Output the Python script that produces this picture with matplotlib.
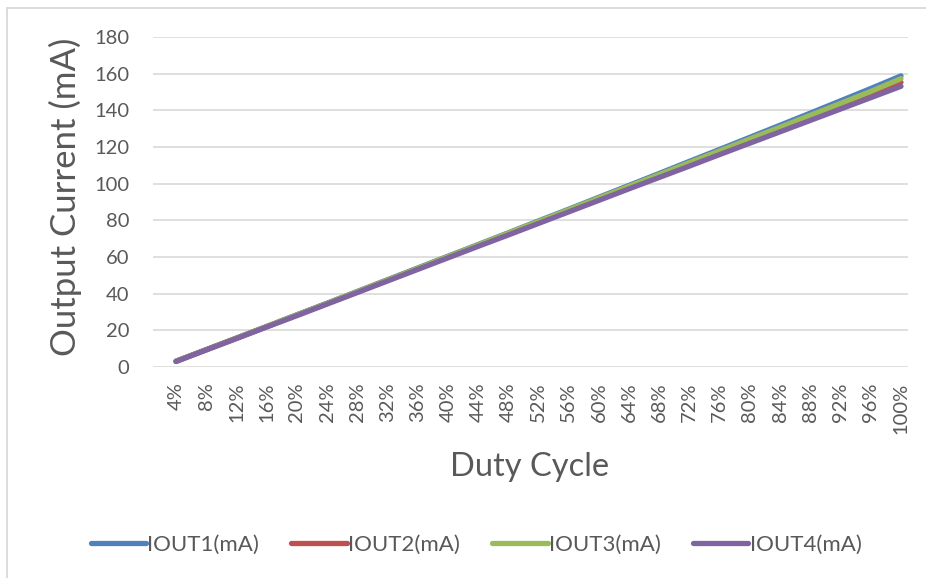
import matplotlib
matplotlib.use("Agg")
import matplotlib.pyplot as plt
from matplotlib.patches import Rectangle
from matplotlib.transforms import ScaledTranslation

duty = [4, 8, 12, 16, 20, 24, 28, 32, 36, 40, 44, 48, 52,
        56, 60, 64, 68, 72, 76, 80, 84, 88, 92, 96, 100]
duty_labels = [f"{d}%" for d in duty]

iout1 = [3.2, 9.5, 15.8, 22.1, 28.5, 34.8, 41.2, 47.6, 54.0, 60.4, 66.8, 73.2, 79.7,
         86.1, 92.6, 99.1, 105.6, 112.2, 118.7, 125.3, 131.9, 138.5, 145.2, 151.9, 158.8]
iout2 = [3.1, 9.4, 15.7, 22.0, 28.3, 34.6, 40.9, 47.3, 53.6, 60.0, 66.3, 72.6, 79.0,
         85.3, 91.7, 98.0, 104.4, 110.8, 117.1, 123.5, 129.8, 136.2, 142.5, 148.9, 155.3]
iout3 = [3.1, 9.4, 15.7, 22.1, 28.4, 34.7, 41.1, 47.4, 53.8, 60.2, 66.6, 73.0, 79.4,
         85.8, 92.2, 98.6, 105.0, 111.5, 117.9, 124.4, 130.8, 137.3, 143.8, 150.3, 157.3]
iout4 = [3.0, 9.3, 15.5, 21.8, 28.0, 34.3, 40.6, 46.9, 53.2, 59.5, 65.8, 72.0, 78.3,
         84.6, 90.9, 97.2, 103.4, 109.6, 115.9, 122.1, 128.3, 134.5, 140.7, 146.9, 153.1]

series = [("IOUT1(mA)", iout1, "#4F81BD"),
          ("IOUT2(mA)", iout2, "#C0504D"),
          ("IOUT3(mA)", iout3, "#9BBB59"),
          ("IOUT4(mA)", iout4, "#8064A2")]

plt.rcParams['font.family'] = ['Lato', 'DejaVu Sans']
txt = "#595959"

W, H = 926, 578
fig = plt.figure(figsize=(W / 100, H / 100), dpi=100)
ax = fig.add_axes([153 / W, 1 - 367 / H, (908 - 153) / W, (367 - 37) / H])

for name, vals, col in series:
    ax.plot(duty, vals, color=col, lw=3.8, solid_capstyle='round', label=name)

ax.set_ylim(0, 180)
ax.set_yticks(range(0, 181, 20))
ax.set_xlim(0.95, 100.93)
ax.set_xticks(duty)
ax.set_xticklabels(duty_labels, rotation=90)
for lab in ax.get_xticklabels():
    lab.set_transform(lab.get_transform() + ScaledTranslation(15 / 100, 0, fig.dpi_scale_trans))

ax.tick_params(axis='both', length=0, labelsize=14.5, colors=txt)
ax.tick_params(axis='x', pad=11)
ax.tick_params(axis='y', pad=17)
ax.grid(axis='y', color='#D9D9D9', lw=1.2)
ax.set_axisbelow(True)
for s in ax.spines.values():
    s.set_visible(False)

fig.text(65 / W, 1 - 197 / H, "Output Current (mA)", rotation=90, ha='center', va='center',
         fontsize=25, color=txt)
fig.text(530 / W, 1 - 467 / H, "Duty Cycle", ha='center', va='center', fontsize=23.5, color=txt)

fig.legend(loc='center', bbox_to_anchor=(476 / W, 1 - 545 / H), ncol=4, frameon=False,
           fontsize=16, handlelength=2.5, handletextpad=0.05, columnspacing=1.45,
           labelcolor=txt)

fig.patches.append(Rectangle((7 / W, -0.1), 1.2, 1.1 - 8 / H, transform=fig.transFigure,
                             fill=False, edgecolor='#D9D9D9', lw=1.3))

fig.savefig("out.png", dpi=100)
